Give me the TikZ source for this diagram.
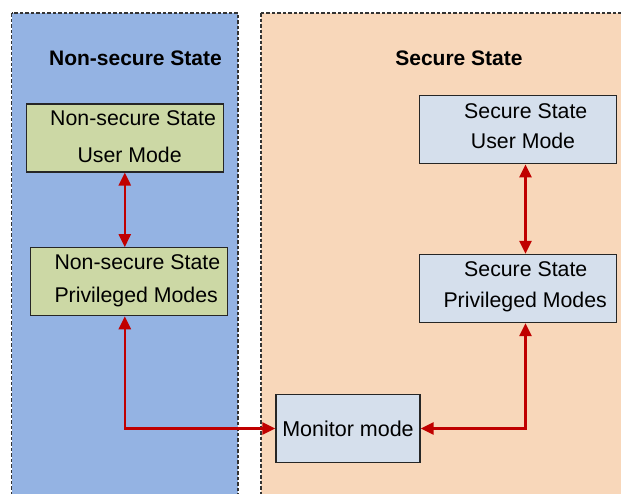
\documentclass[tikz,border=0pt]{standalone}
\usepackage{fontspec}
\setmainfont{Liberation Sans}
\usetikzlibrary{arrows.meta}
\definecolor{nsblue}{HTML}{94B3E3}
\definecolor{sorange}{HTML}{F8D7BA}
\definecolor{nsgreen}{HTML}{CCD8A5}
\definecolor{sgrey}{HTML}{D5DFEC}
\definecolor{switchred}{HTML}{C00000}
\tikzset{
  statearea/.style={draw=black!80, dash pattern=on 3.5pt off 2pt, line width=1.1pt},
  statetitle/.style={font=\fontsize{21}{24}\selectfont\bfseries, inner sep=0pt, anchor=base},
  modebox/.style={draw=black!85, line width=1.2pt, minimum width=197pt, minimum height=68pt, inner sep=0pt},
  modetext/.style={font=\fontsize{21.3}{24}\selectfont, inner sep=0pt, anchor=base west},
  switch/.style={draw=switchred, line width=2.5pt,
    {Triangle[length=13pt,width=12pt]}-{Triangle[length=13pt,width=12pt]}}
}
\begin{document}
\begin{tikzpicture}[x=1pt,y=-1pt]
\useasboundingbox (0,0) rectangle (621,493);
\clip (0,0) rectangle (621,493);
% the two states
\filldraw[statearea, fill=nsblue] (11.5,13) rectangle (238,510);
\filldraw[statearea, fill=sorange] (261,13) rectangle (640,510);
\node[statetitle] (nstitle) at (135.5,65) {Non-secure State};
\node[statetitle] (stitle) at (459,65) {Secure State};
% non-secure modes
\node[modebox, fill=nsgreen] (nsuser) at (124.8,138) {};
\node[modetext] (nsuser1) at (50,125.7) {Non-secure State};
\node[modetext] (nsuser2) at (77.3,162.7) {User Mode};
\node[modebox, fill=nsgreen] (nspriv) at (129,281.7) {};
\node[modetext] (nspriv1) at (54.3,269) {Non-secure State};
\node[modetext] (nspriv2) at (54.3,302.7) {Privileged Modes};
% secure modes
\node[modebox, fill=sgrey] (suser) at (518,129.8) {};
\node[modetext] (suser1) at (464,118.3) {Secure State};
\node[modetext] (suser2) at (470.7,148.3) {User Mode};
\node[modebox, fill=sgrey] (spriv) at (518,288.5) {};
\node[modetext] (spriv1) at (464,276.7) {Secure State};
\node[modetext] (spriv2) at (443.3,307.3) {Privileged Modes};
% monitor
\node[modebox, fill=sgrey, minimum width=144pt, font=\fontsize{21.5}{24}\selectfont] (monitor) at (348,428.5) {Monitor mode};
% switches
\draw[switch] (nsuser.south) -- (nsuser.south |- nspriv.north);
\draw[switch] ([xshift=7.5pt]suser.south) -- ([xshift=7.5pt]spriv.north);
\draw[switch] (nspriv.south -| nsuser.south) |- (monitor.west);
\draw[switch] (monitor.east) -| ([xshift=7.5pt]spriv.south);
\end{tikzpicture}
\end{document}
